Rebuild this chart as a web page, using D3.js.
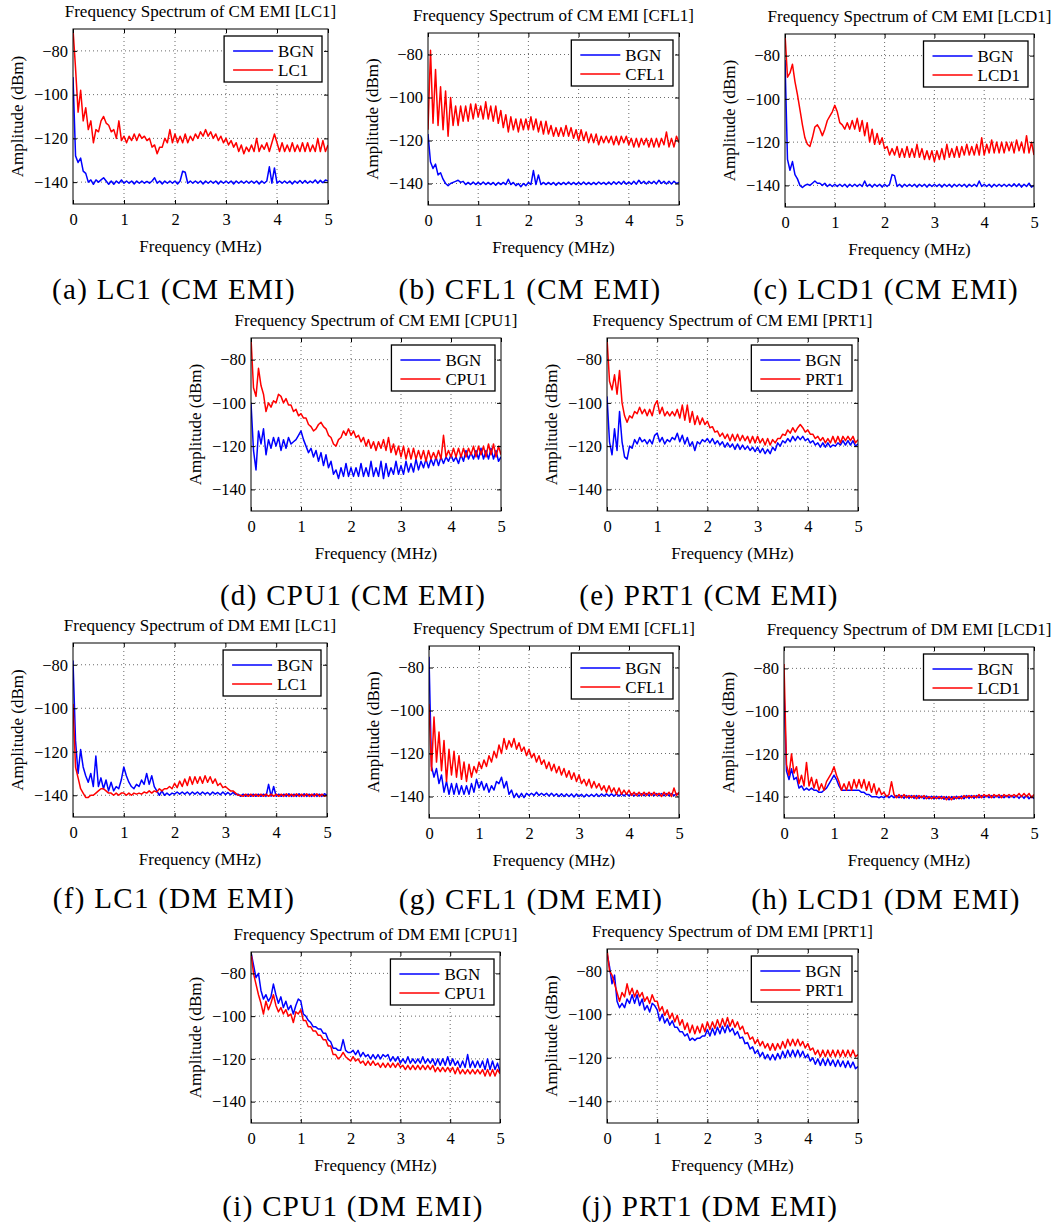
<!DOCTYPE html>
<html>
<head>
<meta charset="utf-8">
<script src="https://cdn.jsdelivr.net/npm/d3@7"></script>
<style>
  body { margin: 0; background: #fff; }
  svg text { font-family: "Liberation Serif", "Times New Roman", serif; fill: #000; }
</style>
</head>
<body>
<svg id="fig" width="1056" height="1228"></svg>
<script>
// Frequency grid shared by every trace, 0 to 5 MHz in 0.05 MHz steps
const freqMHz = d3.range(0, 101).map(i => i * 0.05);
const xTicks = [0, 1, 2, 3, 4, 5];
const yTicks = [-80, -100, -120, -140];

const letters = ['a', 'b', 'c', 'd', 'e', 'f', 'g', 'h', 'i', 'j'];
const devices = ['LC1', 'CFL1', 'LCD1', 'CPU1', 'PRT1', 'LC1', 'CFL1', 'LCD1', 'CPU1', 'PRT1'];
const modes = ['CM', 'CM', 'CM', 'CM', 'CM', 'DM', 'DM', 'DM', 'DM', 'DM'];

// Amplitudes (dBm), one value per freqMHz step
const cmLc1Bgn = [
  -92, -128, -131, -129, -135, -136, -140, -139, -141, -139,
  -140, -139, -138, -139.5, -141, -139.5, -141, -139.5, -140.5, -139,
  -140.5, -139.5, -140.5, -139.5, -140.8, -139.5, -140.5, -139.5, -140.5, -139.7,
  -140.5, -139.5, -138, -140.5, -139.5, -140.8, -139.5, -140.5, -139.5, -140.5,
  -139.5, -140.8, -139.5, -135, -135.5, -140.5, -139.5, -140.5, -139.5, -140.5,
  -139.5, -140.8, -139.5, -140.5, -139.5, -140.5, -139.5, -140.8, -139.5, -140.5,
  -139.5, -140.5, -139.5, -140.8, -139.5, -140.5, -139.5, -140.5, -139.5, -140.5,
  -139.5, -140.5, -139.5, -140.8, -139.5, -140.5, -139.5, -133, -140.5, -133.5,
  -140.5, -139.5, -140.5, -139.5, -140.5, -139.5, -140.8, -139.5, -140.5, -139.3,
  -140.5, -139.3, -140.5, -139.5, -140.3, -139, -140.5, -139.2, -140.3, -139,
  -139.5];
const cmLc1 = [
  -70, -88, -108, -98, -112, -106, -116, -112, -122, -116,
  -117, -112, -110, -113, -114, -117, -116, -120, -112, -121,
  -119, -122, -119, -121, -118, -121, -118, -120, -119, -121,
  -120, -124, -123, -127, -124, -124, -120, -122, -116, -122,
  -118, -122, -119, -122, -118, -122, -119, -121, -118, -120,
  -117, -119, -116, -119, -117, -120, -118, -121, -119, -122,
  -120, -123, -121, -124, -122, -126, -123, -127, -124, -126,
  -123, -126, -120, -126, -123, -125, -122, -126, -122, -118,
  -122, -126, -122, -126, -123, -126, -122, -126, -123, -126,
  -122, -126, -122, -126, -123, -126, -120, -126, -121, -126,
  -123];

const cmCfl1Bgn = [
  -117, -130, -133, -131, -136, -135, -138, -140, -141, -140,
  -139.5, -139, -138.5, -139.5, -139, -140.5, -139.5, -140.5, -139.3, -140.5,
  -139.5, -140.5, -139.3, -140.5, -139.5, -140.5, -139.5, -140.8, -139.5, -140.5,
  -139.5, -140.5, -138, -140.5, -139.5, -141, -140, -141.5, -140, -141,
  -139.5, -140.5, -134, -140.5, -136, -140.5, -139.5, -140.5, -139.5, -140.5,
  -139.5, -140.8, -139.5, -140.5, -139.5, -140.5, -139.3, -140.5, -139.5, -140.5,
  -139.5, -140.5, -139.3, -140.5, -139.5, -140.5, -139.5, -140.5, -139.3, -140.3,
  -139.5, -140.5, -139.3, -140.5, -139.2, -140.3, -139.2, -140.3, -139, -140.3,
  -139.3, -140.3, -139, -140.3, -138.5, -140, -139, -140.2, -139, -140,
  -139, -140.2, -138.5, -140, -139, -140.2, -139, -140.2, -139, -140,
  -139.5];
const cmCfl1 = [
  -115, -78, -112, -87, -113, -95, -115, -97, -118, -100,
  -113, -104, -113, -104, -111, -104, -111, -103, -110, -103,
  -109, -104, -110, -102, -110, -104, -111, -104, -112, -106,
  -114, -108, -116, -109, -115, -110, -116, -110, -115, -110,
  -115, -109, -115, -110, -116, -111, -117, -111, -117, -113,
  -118, -114, -118, -114, -118, -113, -118, -114, -119, -115,
  -120, -115, -120, -116, -121, -117, -121, -117, -122, -118,
  -121, -118, -121, -118, -122, -118, -122, -118, -121, -118,
  -122, -119, -123, -119, -123, -119, -122, -119, -123, -119,
  -123, -119, -123, -119, -122, -116, -123, -119, -123, -118,
  -121];

const cmLcd1Bgn = [
  -82, -128, -133, -129, -135, -137, -140, -141, -140, -139.5,
  -140, -139, -138, -139, -139, -140, -139, -140.5, -139.5, -140.5,
  -139.5, -140.5, -139.5, -140.5, -139.5, -140.8, -139.5, -140.5, -139.5, -140.5,
  -139.5, -140.5, -138, -140.5, -139.5, -140.8, -139.5, -140.5, -139.5, -140.8,
  -139.5, -140.5, -139.5, -135, -135.5, -140.5, -139.5, -140.8, -139.5, -140.5,
  -139.5, -140.5, -139.5, -140.8, -139.5, -140.5, -139.5, -140.8, -139.5, -140.5,
  -139.5, -140.5, -139.5, -140.8, -139.5, -140.5, -139.5, -140.8, -139.5, -140.5,
  -139.5, -140.5, -139.5, -140.8, -139.5, -140.5, -139.5, -140.5, -138, -140.5,
  -139.5, -140.5, -139.5, -140.8, -139.5, -140.5, -139.5, -140.5, -139.5, -140.5,
  -139.5, -140.5, -139.3, -140.5, -139.3, -140.8, -139.5, -140.5, -139, -140.8,
  -140];
const cmLcd1 = [
  -70, -90, -88, -84, -92, -98, -105, -112, -118, -121,
  -122, -118, -113, -112, -114, -117, -114, -110, -108, -106,
  -103, -106, -111, -112, -114, -111, -114, -110, -114, -109,
  -115, -110, -117, -111, -120, -114, -121, -116, -121, -118,
  -123, -122, -126, -123, -126, -122, -127, -123, -127, -122,
  -127, -123, -127, -121, -127, -123, -128, -124, -128, -124,
  -129, -124, -128, -123, -128, -121, -127, -123, -127, -122,
  -127, -122, -126, -121, -126, -122, -126, -121, -126, -118,
  -126, -121, -125, -119, -125, -120, -125, -120, -125, -120,
  -124, -120, -125, -119, -124, -120, -125, -117, -125, -120,
  -126];

const cmCpu1Bgn = [
  -100, -122, -131, -113, -119, -112, -124, -117, -121, -116,
  -120, -116, -122, -117, -121, -116, -119, -118, -117, -115,
  -113, -117, -120, -123, -121, -125, -122, -127, -123, -129,
  -124, -130, -127, -133, -131, -135, -130, -134, -128, -134,
  -130, -134, -130, -134, -128, -134, -130, -134, -127, -134,
  -130, -134, -127, -135, -128, -134, -130, -133, -127, -133,
  -129, -133, -127, -132, -128, -132, -126, -131, -127, -130,
  -126, -130, -126, -129, -125, -129, -125, -128, -125, -127,
  -124, -127, -125, -128, -124, -127, -122, -126, -123, -126,
  -122, -126, -121, -126, -122, -126, -121, -126, -122, -127,
  -125];
const cmCpu1 = [
  -70, -93, -97, -84, -92, -96, -104, -100, -102, -99,
  -100, -96, -97, -100, -98, -101, -101, -104, -103, -106,
  -105, -107, -107, -110, -111, -113, -112, -110, -109, -111,
  -112, -115, -116, -119, -120, -117, -116, -113, -115, -112,
  -115, -113, -116, -115, -118, -116, -120, -117, -121, -118,
  -122, -118, -121, -117, -122, -116, -123, -119, -124, -120,
  -125, -120, -126, -121, -126, -121, -126, -122, -126, -122,
  -127, -122, -126, -123, -126, -122, -126, -115, -125, -122,
  -125, -121, -125, -121, -125, -121, -125, -121, -124, -120,
  -125, -120, -124, -120, -125, -119, -124, -119, -125, -120,
  -124];

const cmPrt1Bgn = [
  -97, -118, -124, -112, -122, -104, -118, -125, -126, -120,
  -121, -117, -119, -116, -118, -117, -119, -117, -119, -115,
  -114, -118, -116, -119, -117, -118, -116, -117, -114, -118,
  -115, -119, -116, -120, -118, -122, -118, -119, -117, -118,
  -116.5, -118.5, -116.5, -119, -117.5, -119.5, -118, -120.5, -118.5, -120.5,
  -119, -121.5, -119, -121.5, -119.5, -121.5, -120, -122, -120.5, -122.5,
  -120.5, -123, -121, -123.5, -121.5, -123.5, -120.5, -122, -118.5, -120,
  -117.5, -118.5, -116.5, -118, -115.5, -117.5, -115.5, -117, -115.5, -117.5,
  -116.5, -118.5, -117.5, -119.5, -118.5, -120.5, -118.5, -120.5, -118.5, -120.5,
  -119.5, -120, -118.5, -119.5, -117.5, -119.5, -117.5, -119.5, -117.5, -120,
  -119];
const cmPrt1 = [
  -70, -90, -94, -87, -96, -85, -100, -106, -109, -106,
  -107, -104, -105, -102, -105, -103, -106, -103, -106, -101,
  -99, -105, -102, -106, -104, -106, -104, -106, -103, -107,
  -101, -108, -101, -109, -104, -110, -106, -110, -107, -110,
  -108.5, -111.5, -111, -113.5, -113, -115.5, -114, -116.5, -114.5, -117.5,
  -114.5, -117.5, -114.5, -117.5, -115, -117.5, -115.5, -118.5, -115.5, -118.5,
  -115.5, -118.5, -116.5, -119.5, -116.5, -119.5, -117, -118.5, -116.5, -116.5,
  -114.5, -115, -112.5, -114, -111.5, -113.5, -111.5, -110, -111.5, -113.5,
  -112.5, -114.5, -114.5, -116.5, -115.5, -117.5, -116, -118.5, -116.5, -118.5,
  -115.5, -118.5, -115.5, -118.5, -115.5, -117.5, -115.5, -117.5, -115.5, -118.5,
  -117];

const dmLc1Bgn = [
  -78, -115, -130, -119, -127, -131, -134, -130, -136, -122,
  -136, -132, -137, -133, -138, -134, -138, -136, -137, -133,
  -127, -131, -134, -136, -137, -135, -136, -133, -135, -130,
  -135, -131, -136, -138, -140, -138, -140, -139, -140, -139,
  -139.5, -138.5, -139.5, -138.5, -139.5, -138.5, -139.7, -138.5, -139.5, -138.5,
  -139.7, -138.5, -139.5, -138.7, -139.8, -138.5, -139.5, -138.7, -139.8, -138.5,
  -139.7, -138.7, -139.8, -138.7, -139.7, -139.5, -140.5, -139.5, -140.5, -139.5,
  -140.5, -139.5, -140.5, -139.5, -140.5, -139.5, -140.5, -135, -140.5, -136,
  -140.5, -139.5, -140.5, -139.5, -140.5, -139.3, -140.5, -139.5, -140.5, -139.3,
  -140.5, -139.3, -140.5, -139.5, -140.5, -139.3, -140.5, -139.5, -140.5, -139.3,
  -140];
const dmLc1 = [
  -98, -127, -132, -137, -139, -141, -141, -140, -140, -139,
  -138, -137, -137, -138, -139, -139, -140, -139, -140, -139,
  -139, -140, -139, -140, -139, -139.5, -139, -139.5, -138.5, -139,
  -138, -139, -138, -138.5, -137, -138, -137, -137, -136, -137,
  -134.5, -136.5, -133.5, -136, -132.5, -135.5, -131.5, -135, -131.5, -134.5,
  -131.5, -134.5, -131, -134, -131.5, -134.5, -132.5, -135.5, -134.5, -136.5,
  -136, -137, -138, -138, -139, -140, -140, -140.5, -139.5, -140.5,
  -139.5, -140.5, -139.5, -140.5, -139.5, -140.5, -139.5, -140.5, -139.5, -140.5,
  -139.5, -140.5, -139.5, -140.5, -139.3, -140.5, -139.5, -140.5, -139.3, -140.5,
  -139.5, -140.5, -139.3, -140.5, -139.5, -140.5, -139.3, -140.5, -139.5, -140.5,
  -140];

const dmCfl1Bgn = [
  -75, -126, -131, -127, -134, -130, -138, -133, -139, -134,
  -139, -134, -139, -135, -139, -135, -139, -134, -138, -132,
  -136, -133, -137, -134, -138, -135, -137, -133, -134, -131,
  -136, -133, -139, -137, -140.5, -138.5, -140.5, -138.5, -140.5, -138.5,
  -139.5, -138.5, -139.5, -138, -139.5, -138.5, -139.5, -138.5, -139.8, -138.5,
  -139.8, -138.7, -140, -138.7, -140, -138.8, -140, -138.8, -140.2, -138.8,
  -140, -139, -140.2, -139, -140, -139, -140, -138.8, -140, -138.8,
  -139.8, -138.8, -139.8, -138.8, -139.8, -138.8, -139.8, -138.8, -139.7, -138.7,
  -139.7, -138.7, -139.7, -138.7, -139.7, -138.7, -139.6, -138.6, -139.6, -138.6,
  -139.6, -138.6, -139.6, -138.6, -139.6, -138.6, -139.6, -138.6, -139.6, -138.6,
  -139];
const dmCfl1 = [
  -97, -128, -103, -124, -110, -128, -114, -133, -118, -130,
  -119, -131, -121, -132, -124, -133, -125, -131, -126, -129,
  -124, -127, -123, -126, -121, -124, -119, -122, -116, -120,
  -113, -118, -114, -117, -113, -118, -115, -119, -117, -121,
  -118, -122, -120, -124, -121, -125, -123, -127, -124, -128,
  -125, -129, -126, -130, -127, -131, -128, -132, -129, -133,
  -130, -134, -132, -135, -132, -136, -133, -136, -134, -137,
  -135, -138, -135, -138, -136, -139, -136, -139, -137, -139,
  -137, -139.5, -138, -139.5, -138, -139.5, -138, -139.5, -138, -139.5,
  -138, -139.5, -138.5, -140, -138, -139.5, -138, -140, -136, -139.5,
  -138];

const dmLcd1Bgn = [
  -90, -128, -132, -127, -132, -131, -136, -135, -137, -136,
  -137, -136, -137, -137, -138, -138, -137, -136, -134, -132,
  -130, -132, -135, -137, -137, -137, -137, -137, -137, -137,
  -137, -138, -138, -139, -139, -140, -140, -140, -140.5, -140,
  -140.5, -139.5, -140.5, -139.5, -140.5, -139.5, -140.5, -139.5, -140.8, -139.5,
  -140.8, -139.5, -140.8, -139.5, -140.8, -139.7, -141, -139.7, -141, -139.8,
  -141, -139.8, -141, -139.8, -141.2, -140, -141.5, -140, -141.2, -139.8,
  -141, -139.7, -141, -139.5, -140.8, -139.5, -140.8, -139.5, -140.5, -139.5,
  -140.5, -139.5, -140.5, -139.5, -140.5, -139.5, -140.5, -139.5, -140.5, -139.5,
  -140.5, -139.5, -140.5, -139.5, -140.8, -139.5, -140.8, -139.5, -141, -139.8,
  -141];
const dmLcd1 = [
  -78, -125, -130, -120, -129, -126, -134, -130, -135, -124,
  -135, -131, -136, -132, -137, -134, -137, -133, -131, -129,
  -126, -130, -133, -137, -134, -137, -133, -137, -132, -136,
  -132, -136, -132, -137, -133, -138, -134, -139, -136, -139,
  -138, -140, -139, -133, -139, -140.5, -139, -140.5, -139, -140.5,
  -139.5, -140.5, -139.5, -141, -139.5, -140.5, -139.5, -141, -140, -141,
  -140, -141, -140, -141, -140, -141.5, -140, -141.5, -140, -141,
  -140, -141, -139.5, -140.5, -139.5, -140.5, -139.5, -140.5, -139, -140.5,
  -139, -140, -139, -140.5, -139, -140, -139, -140.5, -139, -140,
  -139, -140, -139, -140, -138.5, -140, -138.5, -140, -138.5, -140.5,
  -139];

const dmCpu1Bgn = [
  -70, -76, -82, -80, -88, -92, -90, -93, -91, -85,
  -90, -94, -91, -96, -93, -97, -95, -99, -95, -92,
  -93, -99, -100, -102, -103, -105, -105, -106, -106, -108,
  -108, -111, -112, -115, -115, -116, -116, -111, -116, -117,
  -117, -116, -118, -116, -119, -117, -119, -118, -120, -118,
  -120, -118, -120, -118, -119, -118, -121, -119, -121, -119,
  -122, -120, -122, -119, -122, -120, -122, -120, -122, -119,
  -122, -120, -122, -120, -123, -120, -123, -120, -123, -119,
  -123, -120, -123, -121, -124, -121, -124, -118, -124, -121,
  -124, -121, -124, -121, -125, -120, -125, -121, -125, -122,
  -126];
const dmCpu1 = [
  -70, -80, -85, -90, -94, -99, -93, -97, -94, -90,
  -95, -98, -96, -99, -97, -100, -99, -103, -98, -99,
  -97, -102, -102, -105, -105, -107, -107, -109, -109, -111,
  -111, -114, -114, -118, -118, -120, -119, -117, -119, -120,
  -121, -119, -121, -120, -122, -121, -123, -121, -123, -121,
  -123, -122, -124, -122, -124, -122, -124, -122, -124, -122,
  -124, -123, -125, -123, -125, -123, -125, -123, -125, -123,
  -125, -123, -125, -123, -126, -124, -126, -124, -126, -124,
  -126, -124, -127, -124, -127, -125, -127, -125, -127, -125,
  -127, -125, -127, -125, -128, -125, -128, -125, -128, -125,
  -127];

const dmPrt1Bgn = [
  -72, -78, -86, -82, -94, -97, -95, -97, -93, -95,
  -91, -95, -91, -96, -93, -98, -96, -99, -95, -96,
  -98, -103, -100, -104, -102, -105, -103, -106, -106, -108,
  -108, -110, -109, -112, -111, -112, -111, -111, -110, -110,
  -107, -110, -106.5, -109.5, -106, -109, -105.5, -108.5, -105, -108,
  -106.5, -109.5, -108, -111, -110.5, -113.5, -113, -116, -115, -118,
  -116.5, -119.5, -117.5, -120.5, -118.5, -121, -118.5, -121, -118, -120.5,
  -117, -120, -116.5, -119.5, -116.5, -119.5, -116.5, -119.5, -117, -120,
  -118.5, -121.5, -120, -123, -120.5, -123.5, -120.5, -123.5, -120.5, -123.5,
  -121, -124, -121, -124, -121.5, -124.5, -121.5, -124.5, -122, -125,
  -124];
const dmPrt1 = [
  -70, -80, -82, -86, -90, -94, -90, -92, -86, -91,
  -88, -92, -89, -92, -90, -94, -92, -95, -91, -94,
  -94, -98.5, -96.5, -100.5, -98, -102, -99.5, -103.5, -100.5, -105,
  -102.5, -107, -104, -108.5, -105, -109, -105.5, -108.5, -104.5, -108,
  -103.5, -107, -103.5, -106.5, -102.5, -106, -102, -105.5, -101.5, -105.5,
  -102.5, -106, -103.5, -107, -105.5, -109, -108.5, -111.5, -110.5, -113.5,
  -111.5, -114.5, -112.5, -115.5, -113.5, -116.5, -113.5, -116.5, -113.5, -116,
  -112.5, -115.5, -111.5, -114.5, -111.5, -114.5, -111.5, -114.5, -112.5, -115.5,
  -113.5, -116.5, -115.5, -118.5, -116.5, -119.5, -116.5, -119.5, -116.5, -119.5,
  -116.5, -119.5, -116.5, -119.5, -116.5, -119.5, -116.5, -119.5, -116.5, -119.5,
  -118.5];

const bgnSeries = [cmLc1Bgn, cmCfl1Bgn, cmLcd1Bgn, cmCpu1Bgn, cmPrt1Bgn,
                   dmLc1Bgn, dmCfl1Bgn, dmLcd1Bgn, dmCpu1Bgn, dmPrt1Bgn];
const deviceSeries = [cmLc1, cmCfl1, cmLcd1, cmCpu1, cmPrt1,
                      dmLc1, dmCfl1, dmLcd1, dmCpu1, dmPrt1];

// Page layout: plot box [left, top, right, bottom] and caption anchor [x, baseline]
const layout = [
  { box: [73, 29, 328, 204], cap: [174, 299] },
  { box: [428, 33, 679, 205], cap: [530, 299] },
  { box: [785, 34, 1034, 207], cap: [886, 299] },
  { box: [251, 338, 501, 511], cap: [353, 605] },
  { box: [607, 338, 858, 511], cap: [709, 605] },
  { box: [73, 643, 327, 817], cap: [174, 908] },
  { box: [429, 646, 679, 818], cap: [531, 909] },
  { box: [784, 647, 1034, 818], cap: [886, 909] },
  { box: [251, 952, 500, 1123], cap: [353, 1216] },
  { box: [607, 949, 858, 1123], cap: [710, 1216] }
];

const svg = d3.select('#fig');
svg.append('rect').attr('width', 1056).attr('height', 1228).attr('fill', '#fff');

layout.forEach(function (p, i) {
  const [x0, y0, x1, y1] = p.box;
  const x = d3.scaleLinear().domain([0, 5]).range([x0, x1]);
  const y = d3.scaleLinear().domain([-150, -70]).range([y1, y0]);
  const g = svg.append('g');

  g.append('rect')
    .attr('x', x0).attr('y', y0)
    .attr('width', x1 - x0).attr('height', y1 - y0)
    .attr('fill', '#fff');

  // dotted grid
  g.selectAll('.gx').data(xTicks.slice(1, -1)).enter().append('line')
    .attr('x1', d => x(d)).attr('x2', d => x(d))
    .attr('y1', y0).attr('y2', y1)
    .attr('stroke', '#444').attr('stroke-width', 0.8)
    .attr('stroke-dasharray', '1,3');
  g.selectAll('.gy').data(yTicks).enter().append('line')
    .attr('x1', x0).attr('x2', x1)
    .attr('y1', d => y(d)).attr('y2', d => y(d))
    .attr('stroke', '#444').attr('stroke-width', 0.8)
    .attr('stroke-dasharray', '1,3');

  // traces
  const clipId = 'clip-' + letters[i];
  svg.append('clipPath').attr('id', clipId)
    .append('rect').attr('x', x0).attr('y', y0)
    .attr('width', x1 - x0).attr('height', y1 - y0);

  const line = d3.line().x((d, k) => x(freqMHz[k])).y(d => y(d));
  g.append('path').datum(bgnSeries[i])
    .attr('d', line).attr('fill', 'none')
    .attr('stroke', '#0000ff').attr('stroke-width', 1.5)
    .attr('stroke-linejoin', 'round')
    .attr('clip-path', 'url(#' + clipId + ')');
  g.append('path').datum(deviceSeries[i])
    .attr('d', line).attr('fill', 'none')
    .attr('stroke', '#ff0000').attr('stroke-width', 1.5)
    .attr('stroke-linejoin', 'round')
    .attr('clip-path', 'url(#' + clipId + ')');

  // axes, ticks pointing inwards as in MATLAB
  function styleAxis(sel) {
    sel.select('.domain').remove();
    sel.attr('font-family', 'Liberation Serif').attr('font-size', 16.5);
    sel.selectAll('line').attr('stroke', '#000');
  }
  g.append('g').attr('transform', 'translate(0,' + y1 + ')')
    .call(d3.axisBottom(x).tickValues(xTicks).tickFormat(d3.format('d'))
      .tickSize(-4).tickPadding(9))
    .call(styleAxis);
  g.append('g').attr('transform', 'translate(0,' + y0 + ')')
    .call(d3.axisTop(x).tickValues(xTicks).tickSize(-4).tickFormat(''))
    .call(styleAxis);
  g.append('g').attr('transform', 'translate(' + x0 + ',0)')
    .call(d3.axisLeft(y).tickValues(yTicks).tickSize(-4).tickPadding(5))
    .call(styleAxis);
  g.append('g').attr('transform', 'translate(' + x1 + ',0)')
    .call(d3.axisRight(y).tickValues(yTicks).tickSize(-4).tickFormat(''))
    .call(styleAxis);

  g.append('rect')
    .attr('x', x0).attr('y', y0)
    .attr('width', x1 - x0).attr('height', y1 - y0)
    .attr('fill', 'none').attr('stroke', '#000').attr('stroke-width', 1);

  // labels
  g.append('text')
    .attr('x', (x0 + x1) / 2).attr('y', y0 - 12)
    .attr('text-anchor', 'middle').attr('font-size', 17)
    .text('Frequency Spectrum of ' + modes[i] + ' EMI [' + devices[i] + ']');
  g.append('text')
    .attr('x', (x0 + x1) / 2).attr('y', y1 + 48)
    .attr('text-anchor', 'middle').attr('font-size', 17)
    .text('Frequency (MHz)');
  g.append('text')
    .attr('transform', 'translate(' + (x0 - 50) + ',' + (y0 + y1) / 2 + ') rotate(-90)')
    .attr('text-anchor', 'middle').attr('font-size', 17)
    .text('Amplitude (dBm)');

  // legend
  const names = ['BGN', devices[i]];
  const colors = ['#0000ff', '#ff0000'];
  const lg = g.append('g');
  const box = lg.append('rect');
  const texts = names.map((n, k) => lg.append('text')
    .attr('font-size', 17).text(n));
  const tw = d3.max(texts, t => t.node().getComputedTextLength());
  const lw = 54 + tw + 8, lh = 46;
  const lx = x1 - 6 - lw, ly = y0 + 7;
  box.attr('x', lx).attr('y', ly).attr('width', lw).attr('height', lh)
    .attr('fill', '#fff').attr('stroke', '#000').attr('stroke-width', 1.3);
  names.forEach(function (n, k) {
    const ry = ly + 15 + k * 19;
    lg.append('line')
      .attr('x1', lx + 9).attr('x2', lx + 49)
      .attr('y1', ry).attr('y2', ry)
      .attr('stroke', colors[k]).attr('stroke-width', 1.3);
    texts[k].attr('x', lx + 54).attr('y', ry + 6);
  });

  // sub-figure caption
  svg.append('text')
    .attr('x', p.cap[0]).attr('y', p.cap[1])
    .attr('text-anchor', 'middle')
    .attr('font-size', 29).attr('letter-spacing', 1.3)
    .text('(' + letters[i] + ') ' + devices[i] + ' (' + modes[i] + ' EMI)');
});
</script>
</body>
</html>
